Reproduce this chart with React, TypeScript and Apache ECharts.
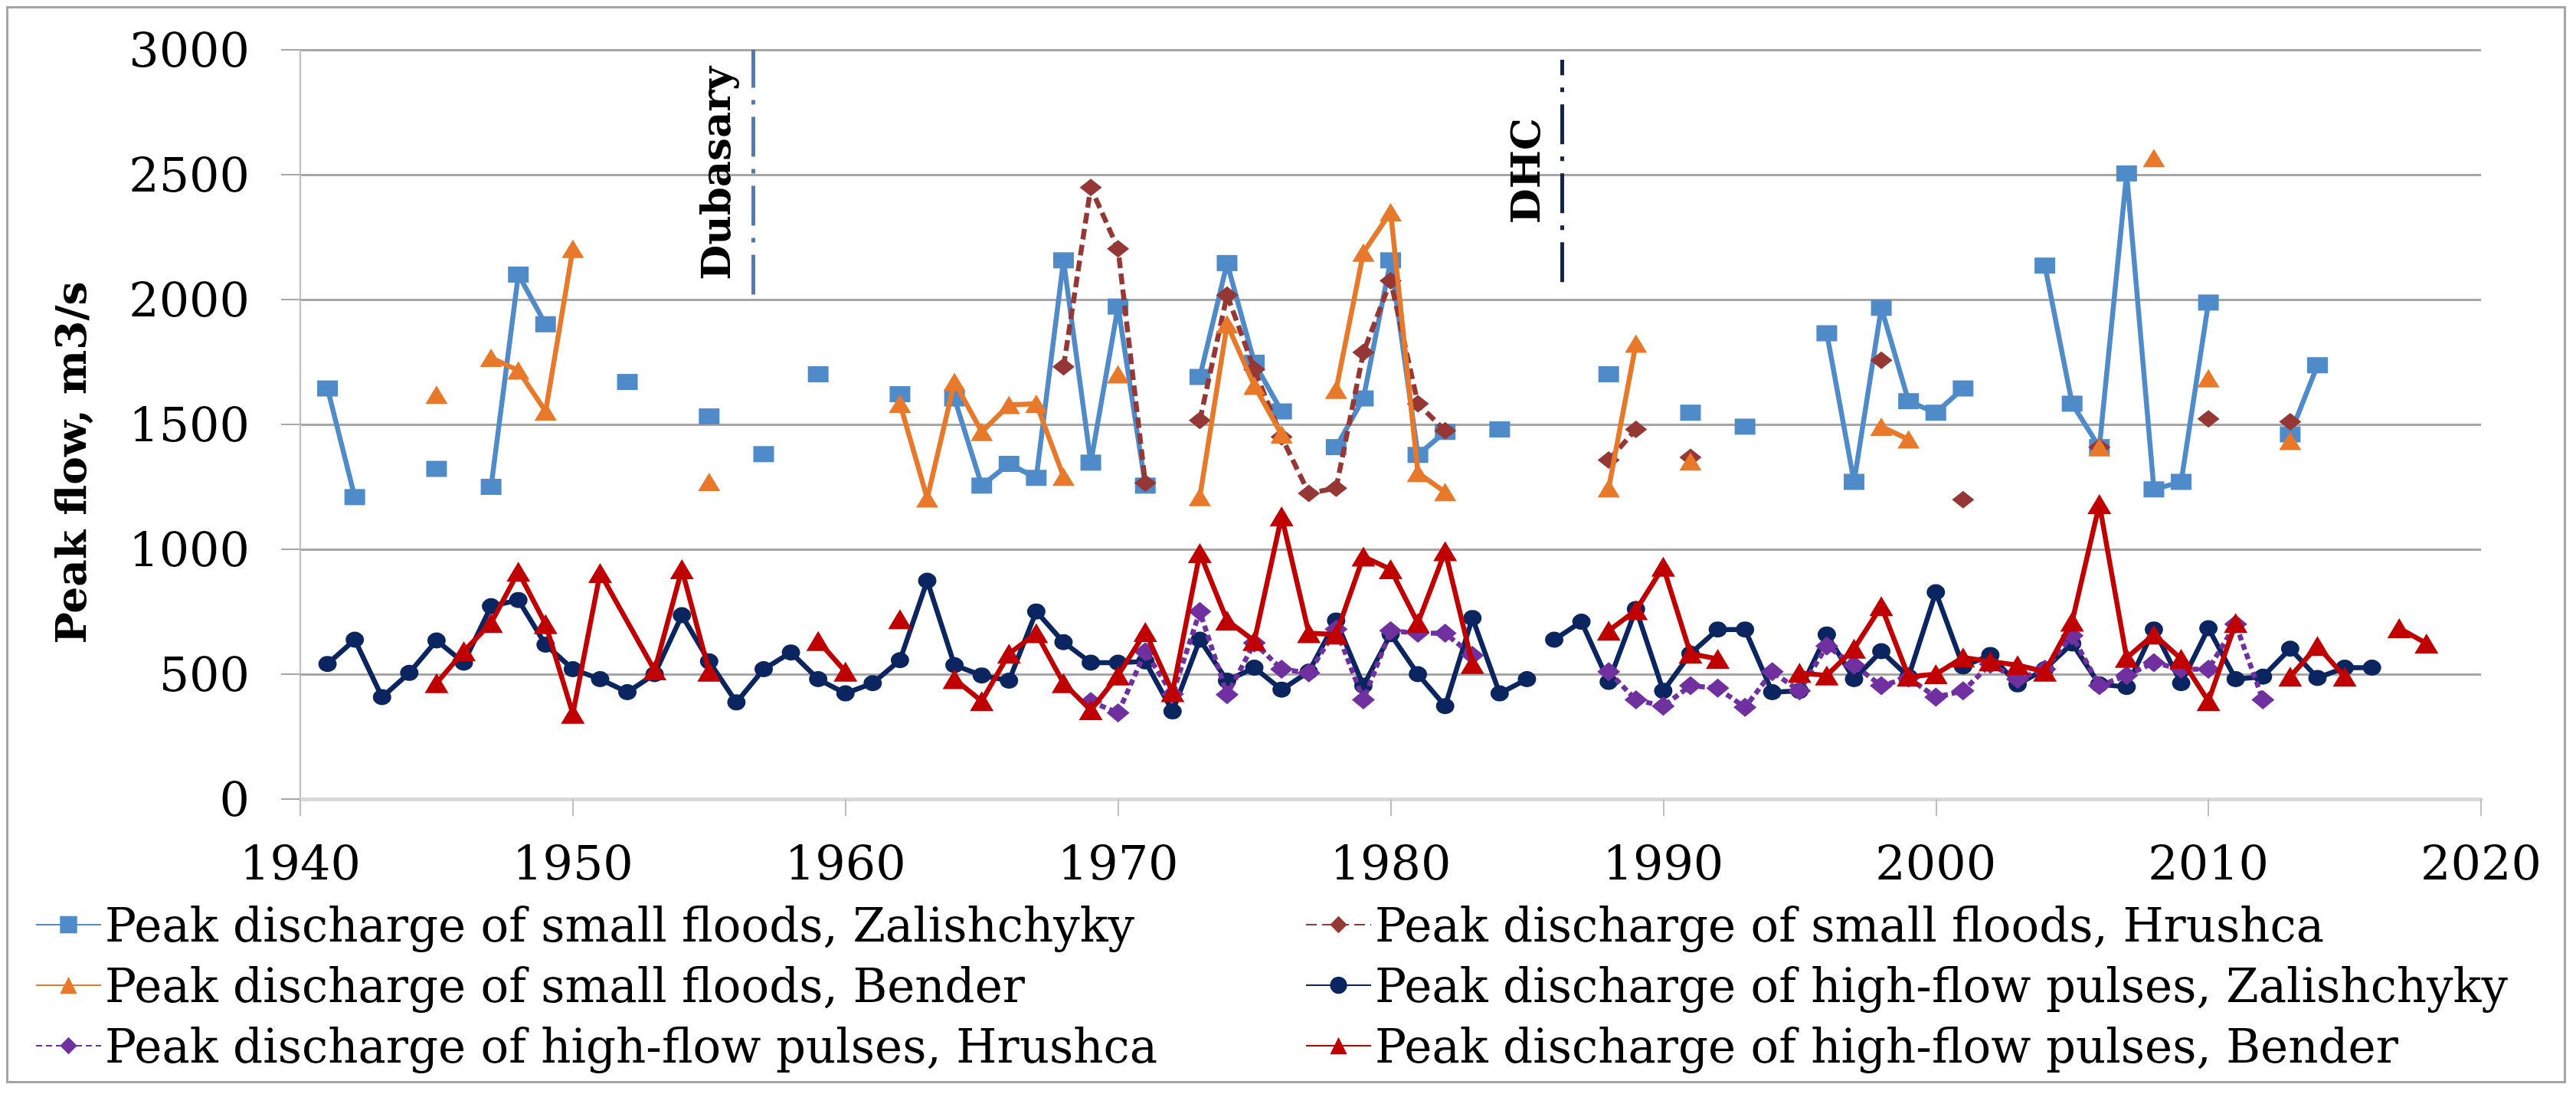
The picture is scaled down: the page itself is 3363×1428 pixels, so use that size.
import React, { useEffect, useRef } from 'react';
import * as echarts from 'echarts';

// [year, peak flow m3/s]; null breaks the line
type Pt = [number, number] | null;

const seriesNames = [
  'Peak discharge of small floods, Zalishchyky',
  'Peak discharge of small floods, Hrushca',
  'Peak discharge of small floods, Bender',
  'Peak discharge of high-flow pulses, Zalishchyky',
  'Peak discharge of high-flow pulses, Hrushca',
  'Peak discharge of high-flow pulses, Bender',
];

const smallZalishchyky: Pt[] = [
  [1941, 1644], [1942, 1209], null,
  [1945, 1322], null,
  [1947, 1250], [1948, 2100], [1949, 1901], null,
  [1952, 1670], null,
  [1955, 1532], null,
  [1957, 1381], null,
  [1959, 1701], null,
  [1962, 1621], null,
  [1964, 1604], [1965, 1255], [1966, 1342], [1967, 1286], [1968, 2157], [1969, 1347], [1970, 1972], [1971, 1255], null,
  [1973, 1690], [1974, 2146], [1975, 1747], [1976, 1552], null,
  [1978, 1409], [1979, 1604], [1980, 2157], [1981, 1378], [1982, 1470], null,
  [1984, 1480], null,
  [1988, 1701], null,
  [1991, 1547], null,
  [1993, 1491], null,
  [1996, 1865], [1997, 1270], [1998, 1967], [1999, 1593], [2000, 1547], [2001, 1644], null,
  [2004, 2136], [2005, 1583], [2006, 1409], [2007, 2505], [2008, 1240], [2009, 1270], [2010, 1988], null,
  [2013, 1460], [2014, 1737],
];

const smallHrushca: Pt[] = [
  [1968, 1731], [1969, 2449], [1970, 2203], [1971, 1265], null,
  [1973, 1516], [1974, 2018], [1975, 1720], [1976, 1450], [1977, 1224], [1978, 1245], [1979, 1788], [1980, 2075], [1981, 1583], [1982, 1475], null,
  [1988, 1357], [1989, 1480], null,
  [1991, 1368], null,
  [1998, 1757], null,
  [2001, 1199], null,
  [2006, 1409], null,
  [2010, 1522], null,
  [2013, 1511],
];

const smallBender: Pt[] = [
  [1945, 1619], null,
  [1947, 1767], [1948, 1716], [1949, 1552], [1950, 2203], null,
  [1955, 1270], null,
  [1962, 1583], [1963, 1204], [1964, 1670], [1965, 1470], [1966, 1578], [1967, 1583], [1968, 1291], null,
  [1970, 1701], null,
  [1973, 1209], [1974, 1901], [1975, 1655], [1976, 1460], null,
  [1978, 1639], [1979, 2188], [1980, 2350], [1981, 1306], [1982, 1229], null,
  [1988, 1245], [1989, 1824], null,
  [1991, 1352], null,
  [1998, 1491], [1999, 1440], null,
  [2006, 1409], null,
  [2008, 2567], null,
  [2010, 1685], null,
  [2013, 1434],
];

const pulsesZalishchyky: Pt[] = [
  [1941, 541], [1942, 638], [1943, 408], [1944, 505], [1945, 635], [1946, 546], [1947, 772], [1948, 797],
  [1949, 618], [1950, 520], [1951, 480], [1952, 428], [1953, 500], [1954, 736], [1955, 551], [1956, 387],
  [1957, 520], [1958, 587], [1959, 480], [1960, 423], [1961, 464], [1962, 556], [1963, 874], [1964, 536],
  [1965, 495], [1966, 474], [1967, 751], [1968, 628], [1969, 546], [1970, 546], [1971, 551], [1972, 351],
  [1973, 638], [1974, 474], [1975, 526], [1976, 438], [1977, 510], [1978, 715], [1979, 454], [1980, 660],
  [1981, 500], [1982, 372], [1983, 725], [1984, 423], [1985, 480], null,
  [1986, 638], [1987, 710], [1988, 469], [1989, 761], [1990, 433], [1991, 582], [1992, 679], [1993, 679],
  [1994, 428], [1995, 433], [1996, 659], [1997, 480], [1998, 592], [1999, 490], [2000, 828], [2001, 531],
  [2002, 577], [2003, 459], [2004, 520], [2005, 623], [2006, 459], [2007, 449], [2008, 679], [2009, 464],
  [2010, 684], [2011, 480], [2012, 490], [2013, 602], [2014, 485], [2015, 526], [2016, 526],
];

const pulsesHrushca: Pt[] = [
  [1969, 390], [1970, 345], [1971, 590], [1972, 420], [1973, 751], [1974, 418], [1975, 625], [1976, 520],
  [1977, 505], [1978, 680], [1979, 397], [1980, 674], [1981, 664], [1982, 664], [1983, 575], null,
  [1988, 510], [1989, 397], [1990, 372], [1991, 454], [1992, 444], [1993, 367], [1994, 510], [1995, 433],
  [1996, 613], [1997, 536], [1998, 454], [1999, 485], [2000, 408], [2001, 433], [2002, 540], [2003, 480],
  [2004, 520], [2005, 654], [2006, 454], [2007, 495], [2008, 546], [2009, 520], [2010, 520], [2011, 700],
  [2012, 397],
];

const pulsesBender: Pt[] = [
  [1945, 464], [1946, 592], [1947, 705], [1948, 910], [1949, 700], [1950, 341], [1951, 905], [1953, 515],
  [1954, 920], [1955, 510], null,
  [1959, 633], [1960, 510], null,
  [1962, 720], null,
  [1964, 480], [1965, 392], [1966, 582], [1967, 664], [1968, 464], [1969, 356], [1970, 495], [1971, 669],
  [1972, 428], [1973, 985], [1974, 715], [1975, 633], [1976, 1132], [1977, 664], [1978, 659], [1979, 971],
  [1980, 920], [1981, 705], [1982, 992], [1983, 541], null,
  [1988, 674], [1989, 756], [1990, 930], [1991, 582], [1992, 561], null,
  [1995, 505], [1996, 495], [1997, 602], [1998, 772], [1999, 490], [2000, 500], [2001, 567], [2002, 551],
  [2003, 536], [2004, 510], [2005, 710], [2006, 1181], [2007, 565], [2008, 659], [2009, 561], [2010, 392],
  [2011, 705], null,
  [2013, 490], [2014, 613], [2015, 490], null,
  [2017, 684], [2018, 623],
];

// dam events: year, line bottom / top (m3/s)
const eventNames = ['Dubasary', 'DHC'];
const eventYears = [1956.6, 1986.3];
const eventFrom = [2020, 2070];
const eventTo = [3000, 2960];

const FONT = "'DejaVu Serif', serif";

const toData = (pts: Pt[]) => pts.map(p => (p ? p : ['-', '-']));

const App: React.FC = () => {
  const chartRef = useRef<HTMLDivElement>(null);

  useEffect(() => {
    if (!chartRef.current) return;
    const chart = echarts.init(chartRef.current, undefined, { renderer: 'svg' });

    const mk = (
      idx: number,
      pts: Pt[],
      color: string,
      symbol: string,
      symbolSize: number[],
      lineType: any,
      z: number,
    ) => ({
      name: seriesNames[idx],
      type: 'line',
      data: toData(pts),
      connectNulls: false,
      symbol,
      symbolSize,
      z,
      itemStyle: { color },
      lineStyle: { color, width: 6.5, type: lineType },
      emphasis: { disabled: true },
    });

    const eventColors = ['#4f7db3', '#14254a'];
    const eventLabelPos = ['insideEndTop', 'insideMiddleTop'];

    const series: any[] = [
      mk(0, smallZalishchyky, '#4f8ac9', 'rect', [27, 21], 'solid', 2),
      mk(1, smallHrushca, '#953735', 'diamond', [29, 23], [14, 7], 3),
      mk(2, smallBender, '#e8792a', 'triangle', [29, 24], 'solid', 4),
      mk(3, pulsesZalishchyky, '#0b2560', 'circle', [24, 21], 'solid', 5),
      mk(4, pulsesHrushca, '#7030a0', 'diamond', [30, 25], [8, 5], 6),
      mk(5, pulsesBender, '#c00000', 'triangle', [31, 26], 'solid', 7),
    ];

    series[0].markLine = {
      silent: true,
      symbol: ['none', 'none'],
      animation: false,
      data: eventNames.map((name, i) => [
        {
          coord: [eventYears[i], eventFrom[i]],
          lineStyle: { color: eventColors[i], width: 5, type: [52, 16, 6, 16] },
          label: {
            show: true,
            formatter: name,
            position: eventLabelPos[i],
            distance: 22,
            color: '#000',
            fontFamily: FONT,
            fontWeight: 'bold',
            fontSize: 53,
          },
        },
        { coord: [eventYears[i], eventTo[i]] },
      ]),
    };

    const legendBase = {
      orient: 'vertical',
      top: 1160,
      itemWidth: 85,
      itemHeight: 28,
      itemGap: 17,
      textStyle: { fontSize: 61, fontFamily: FONT, color: '#000', lineHeight: 62 },
    };

    const option: any = {
      animation: false,
      backgroundColor: '#fff',
      grid: { left: 381, top: 54, width: 2847, height: 978, containLabel: false },
      legend: [
        { ...legendBase, left: 30, data: [seriesNames[0], seriesNames[2], seriesNames[4]] },
        { ...legendBase, left: 1688, data: [seriesNames[1], seriesNames[3], seriesNames[5]] },
      ],
      xAxis: {
        type: 'value',
        min: 1940,
        max: 2020,
        interval: 10,
        axisLine: { show: true, onZero: false, lineStyle: { color: '#d9d9d9', width: 5 } },
        axisTick: { show: true, length: 22, lineStyle: { color: '#bfbfbf', width: 2 } },
        axisLabel: { fontSize: 62, fontFamily: FONT, color: '#000', margin: 52, formatter: (v: number) => String(v) },
        splitLine: { show: false },
      },
      yAxis: {
        type: 'value',
        min: 0,
        max: 3000,
        interval: 500,
        name: 'Peak flow, m3/s',
        nameLocation: 'middle',
        nameGap: 272,
        nameTextStyle: {
          fontSize: 55,
          fontWeight: 'bold',
          fontFamily: FONT,
          color: '#000',
          padding: [0, 100, 0, 0],
        },
        axisLine: { show: true, lineStyle: { color: '#bfbfbf', width: 2 } },
        axisTick: { show: true, length: 25, lineStyle: { color: '#a6a6a6', width: 2 } },
        axisLabel: { fontSize: 62, fontFamily: FONT, color: '#000', margin: 66, formatter: (v: number) => String(v) },
        splitLine: { show: true, lineStyle: { color: '#a6a6a6', width: 3 } },
      },
      series,
    };

    chart.setOption(option);

    return () => {
      chart.dispose();
    };
  }, []);

  return (
    <div style={{ width: 3336, height: 1400, border: '3px solid #a6a6a6', background: '#fff' }}>
      <div ref={chartRef} style={{ width: 3336, height: 1400 }} />
    </div>
  );
};

export default App;
